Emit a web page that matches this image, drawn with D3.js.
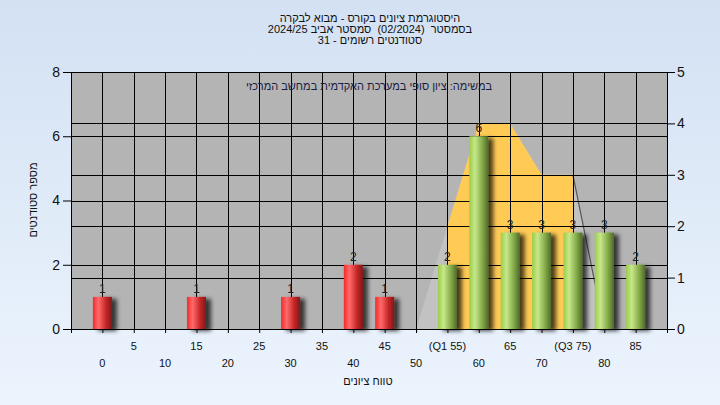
<!DOCTYPE html>
<html>
<head>
<meta charset="utf-8">
<script src="https://cdn.jsdelivr.net/npm/d3@7"></script>
<style>
  html, body { margin: 0; padding: 0; }
  body { width: 720px; height: 405px; overflow: hidden; }
  text { font-family: "Liberation Sans", Arial, sans-serif; }
</style>
</head>
<body>
<script>
// data
const titleLines = ["היסטוגרמת ציונים בקורס - מבוא לבקרה", "בסמסטר  (02/2024)  סמסטר אביב 2024/25", "סטודנטים רשומים - 31"];
const subTitle = "במשימה: ציון סופי במערכת האקדמית במחשב המרכזי";
const yLabel = "מספר סטודנטים";
const xLabel = "טווח ציונים";
const binStarts = [0, 5, 10, 15, 20, 25, 30, 35, 40, 45, 50, 55, 60, 65, 70, 75, 80, 85];
const counts    = [1, 0, 0, 1, 0, 0, 1, 0, 2, 1, 0, 2, 6, 3, 3, 3, 3, 2];
const tickLabels = ["0", "5", "10", "15", "20", "25", "30", "35", "40", "45", "50", "(Q1 55)", "60", "65", "70", "(Q3 75)", "80", "85"];
const passMark = 55;
const q1 = 55, q3 = 75;
// frequency polygon on the right axis
const polyX = [50, 55, 60, 65, 70, 75, 80];
const polyY = [0, 2, 4, 4, 3, 3, 0];
const leftTicks = [0, 2, 4, 6, 8];
const rightTicks = [0, 1, 2, 3, 4, 5];

const width = 720, height = 405;
const L = 71, R = 667, T = 72, B = 329;

const svg = d3.select("body").append("svg")
  .attr("width", width).attr("height", height);

const defs = svg.append("defs");
const bgGrad = defs.append("linearGradient").attr("id", "bg")
  .attr("x1", 0).attr("y1", 0).attr("x2", 0).attr("y2", 1);
bgGrad.append("stop").attr("offset", "0%").attr("stop-color", "#d3e1f3");
bgGrad.append("stop").attr("offset", "100%").attr("stop-color", "#ecf4fd");

function cyl(id, c1, c2, c3, c4) {
  const g = defs.append("linearGradient").attr("id", id)
    .attr("x1", 0).attr("y1", 0).attr("x2", 1).attr("y2", 0);
  g.append("stop").attr("offset", "0%").attr("stop-color", c1);
  g.append("stop").attr("offset", "30%").attr("stop-color", c2);
  g.append("stop").attr("offset", "70%").attr("stop-color", c3);
  g.append("stop").attr("offset", "100%").attr("stop-color", c4);
}
cyl("red", "#f22a2a", "#ff6a6a", "#c42424", "#7e1a1a");
cyl("green", "#9ccc48", "#c6e88a", "#82a846", "#4f6a2c");

const sh = defs.append("filter").attr("id", "shadow")
  .attr("x", "-20%").attr("y", "-10%").attr("width", "180%").attr("height", "130%");
sh.append("feDropShadow").attr("dx", 5).attr("dy", 2).attr("stdDeviation", 2)
  .attr("flood-color", "#000").attr("flood-opacity", 0.7);

svg.append("rect").attr("width", width).attr("height", height).attr("fill", "url(#bg)");

const x = d3.scaleLinear().domain([-5, 90]).range([L, R]);
const yL = d3.scaleLinear().domain([0, 8]).range([B, T]);
const yR = d3.scaleLinear().domain([0, 5]).range([B, T]);

// plot background
svg.append("rect").attr("x", L).attr("y", T).attr("width", R - L).attr("height", B - T)
  .attr("fill", "#b4b4b4");

// frequency polygon
const area = d3.area().x((d, i) => x(polyX[i])).y0(yR(0)).y1(d => yR(d));
svg.append("path").datum(polyY).attr("d", area).attr("fill", "#c2c2c2");
defs.append("clipPath").attr("id", "iqr").append("rect")
  .attr("x", x(q1)).attr("y", T).attr("width", x(q3) - x(q1)).attr("height", B - T);
svg.append("path").datum(polyY).attr("d", area).attr("fill", "#ffcb55")
  .attr("clip-path", "url(#iqr)");
svg.append("line")
  .attr("x1", x(polyX[5])).attr("y1", yR(polyY[5]))
  .attr("x2", x(polyX[6])).attr("y2", yR(polyY[6]))
  .attr("stroke", "#555").attr("stroke-width", 1.2);

// grid
const grid = svg.append("g").attr("stroke", "#000").attr("stroke-width", 1).attr("shape-rendering", "crispEdges");
grid.selectAll(".gv").data(binStarts.concat([-5, 90])).join("line")
  .attr("x1", d => Math.round(x(d)) + 0.5).attr("x2", d => Math.round(x(d)) + 0.5)
  .attr("y1", T).attr("y2", B);
grid.selectAll(".gl").data(leftTicks).join("line")
  .attr("x1", L).attr("x2", R)
  .attr("y1", d => Math.round(yL(d)) + 0.5).attr("y2", d => Math.round(yL(d)) + 0.5);
grid.selectAll(".gr").data(rightTicks).join("line")
  .attr("x1", L).attr("x2", R)
  .attr("y1", d => Math.round(yR(d)) + 0.5).attr("y2", d => Math.round(yR(d)) + 0.5);

// subtitle inside the plot
svg.append("text").attr("x", 369).attr("y", 90).attr("text-anchor", "middle")
  .attr("direction", "rtl").attr("font-size", 11).attr("fill", "#1a1c44").text(subTitle);

// bars
const bars = binStarts.map((b, i) => ({ b, v: counts[i] })).filter(d => d.v > 0);
const bw = 19;
svg.append("g").selectAll("rect").data(bars).join("rect")
  .attr("x", d => x(d.b) - bw / 2).attr("width", bw)
  .attr("y", d => yL(d.v)).attr("height", d => yL(0) - yL(d.v))
  .attr("fill", d => d.b < passMark ? "url(#red)" : "url(#green)")
  .attr("filter", "url(#shadow)");
svg.append("g").selectAll("text").data(bars).join("text")
  .attr("x", d => x(d.b)).attr("y", d => yL(d.v) - 4)
  .attr("text-anchor", "middle").attr("font-size", 12).attr("fill", "#222")
  .text(d => d.v);

// axes
const axL = svg.append("g").attr("transform", `translate(${L},0)`)
  .call(d3.axisLeft(yL).tickValues(leftTicks).tickSize(8).tickPadding(3));
const axR = svg.append("g").attr("transform", `translate(${R},0)`)
  .call(d3.axisRight(yR).tickValues(rightTicks).tickSize(8).tickPadding(2).tickFormat(d3.format("d")));
const axB = svg.append("g").attr("transform", `translate(0,${B})`)
  .call(d3.axisBottom(x).tickValues(binStarts.concat([50, 90])).tickSize(4).tickFormat(""));
[axL, axR, axB].forEach(a => {
  a.selectAll("path.domain").attr("stroke", "#000");
  a.selectAll("line").attr("stroke", "#000");
});
[axL, axR].forEach(a => a.selectAll("text").attr("font-size", 14).attr("fill", "#111")
  .attr("font-family", "'Liberation Sans', Arial, sans-serif"));

// x tick labels in two staggered rows
svg.append("g").selectAll("text").data(binStarts).join("text")
  .attr("x", d => x(d)).attr("y", (d, i) => i % 2 ? 350 : 367)
  .attr("text-anchor", "middle").attr("font-size", 11).attr("fill", "#111")
  .text((d, i) => tickLabels[i]);

// titles
svg.append("g").selectAll("text").data(titleLines).join("text")
  .attr("x", 370).attr("y", (d, i) => 22 + i * 11)
  .attr("text-anchor", "middle").attr("direction", "rtl")
  .style("white-space", "pre")
  .attr("font-size", 11).attr("fill", "#111").text(d => d);

svg.append("text").attr("transform", "translate(37,200) rotate(-90)")
  .attr("text-anchor", "middle").attr("direction", "rtl")
  .attr("font-size", 11).attr("fill", "#111").text(yLabel);
svg.append("text").attr("x", 368).attr("y", 385)
  .attr("text-anchor", "middle").attr("direction", "rtl")
  .attr("font-size", 11).attr("fill", "#111").text(xLabel);
</script>
</body>
</html>
